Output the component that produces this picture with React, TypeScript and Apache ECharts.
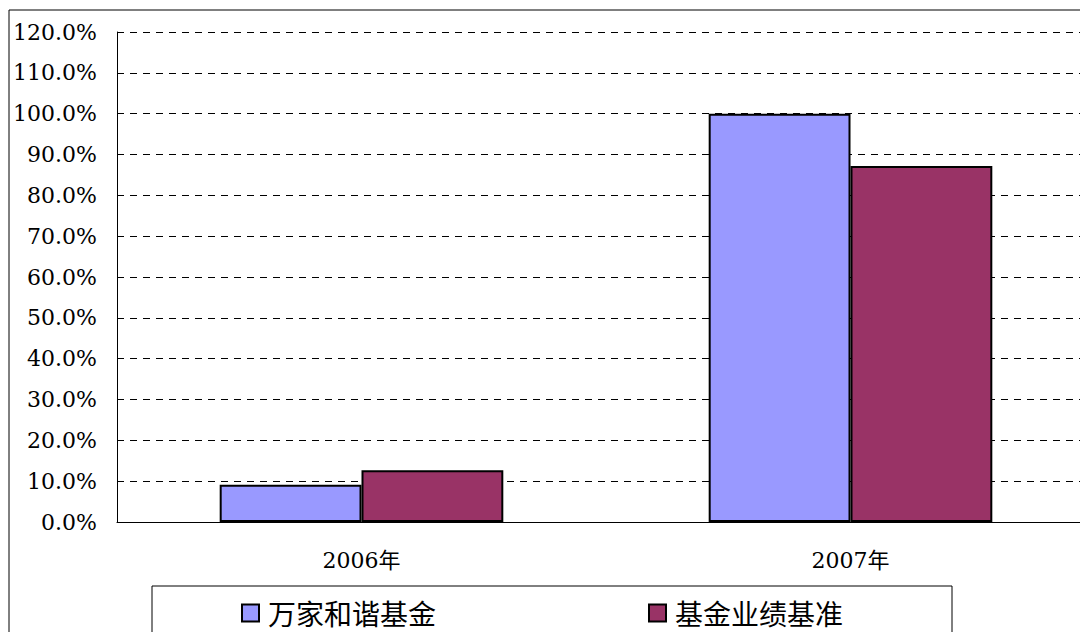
import React, { useEffect, useRef } from "react";
import * as echarts from "echarts";

const categories = ["2006年", "2007年"];
const fundName = "万家和谐基金";
const benchName = "基金业绩基准";
const fundValues = [9.1, 100.0];
const benchValues = [12.7, 87.2];

const axisFont = "'DejaVu Serif', 'Noto Sans CJK SC', serif";

export default function App() {
  const ref = useRef<HTMLDivElement>(null);
  useEffect(() => {
    if (!ref.current) return;
    const chart = echarts.init(ref.current, undefined, { renderer: "svg" });
    chart.setOption({
      animation: false,
      backgroundColor: "#ffffff",
      graphic: [
        {
          type: "rect",
          shape: { x: 9, y: 10, width: 1150, height: 700 },
          style: { fill: "none", stroke: "#000", lineWidth: 1 },
          z: 0,
        },
      ],
      grid: { left: 117, top: 32, width: 978, height: 490 },
      legend: {
        left: 152,
        top: 586,
        orient: "horizontal",
        padding: [13, 109, 40, 89],
        borderColor: "#000",
        borderWidth: 1,
        itemWidth: 17,
        itemHeight: 17,
        itemGap: 212,
        textStyle: {
          fontFamily: "'Noto Sans CJK SC', sans-serif",
          fontSize: 28,
          lineHeight: 28,
          color: "#000",
          padding: [0, 0, 0, 4],
        },
        data: [
          { name: fundName, icon: "rect", itemStyle: { borderColor: "#000", borderWidth: 2 } },
          { name: benchName, icon: "rect", itemStyle: { borderColor: "#000", borderWidth: 2 } },
        ],
      },
      xAxis: {
        type: "category",
        data: categories,
        boundaryGap: true,
        axisLine: { lineStyle: { color: "#000", width: 1 } },
        axisTick: { inside: true, length: 7, lineStyle: { color: "#000" } },
        axisLabel: {
          margin: 27,
          fontFamily: axisFont,
          fontSize: 22,
          color: "#000",
        },
        splitLine: { show: false },
      },
      yAxis: {
        type: "value",
        min: 0,
        max: 120,
        interval: 10,
        axisLine: { show: true, lineStyle: { color: "#000", width: 1 } },
        axisTick: { show: true, inside: true, length: 4, lineStyle: { color: "#000" } },
        axisLabel: {
          margin: 20,
          fontFamily: axisFont,
          fontSize: 22,
          color: "#000",
          formatter: (v: number) => v.toFixed(1) + "%",
        },
        splitLine: {
          show: true,
          lineStyle: { color: "#000", type: [7, 6], width: 1 },
        },
      },
      series: [
        {
          name: fundName,
          type: "bar",
          data: fundValues,
          barGap: "0%",
          barCategoryGap: "42%",
          itemStyle: { color: "#9999FF", borderColor: "#000", borderWidth: 2 },
        },
        {
          name: benchName,
          type: "bar",
          data: benchValues,
          barGap: "0%",
          barCategoryGap: "42%",
          itemStyle: { color: "#993366", borderColor: "#000", borderWidth: 2 },
        },
      ],
    });
    return () => chart.dispose();
  }, []);
  return (
    <div
      ref={ref}
      style={{ position: "fixed", left: 0, top: 0, width: 1120, height: 632 }}
    />
  );
}
